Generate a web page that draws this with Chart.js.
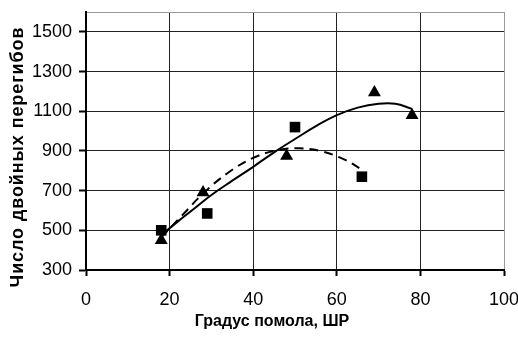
<!DOCTYPE html>
<html>
<head>
<meta charset="utf-8">
<script src="https://cdn.jsdelivr.net/npm/chart.js@4/dist/chart.umd.min.js"></script>
<style>
  html, body { margin: 0; padding: 0; background: #fff; }
</style>
</head>
<body>
<canvas id="chart" width="518" height="339"></canvas>
<script>
// measured points
const squareX = [18, 29, 50, 66];
const squareY = [500, 585, 1020, 770];
const triangleX = [18, 28, 48, 69, 78];
const triangleY = [450, 690, 875, 1195, 1080];

// trend lines
const solidX = [18, 22, 26, 30, 35, 40, 45, 50, 55, 60, 65, 70, 74, 78];
const solidY = [475, 545, 611, 678, 750, 820, 893, 960, 1025, 1080, 1118, 1138, 1138, 1112];
const dashX = [18, 23, 28, 34, 40, 46, 51, 56, 62, 66];
const dashY = [465, 575, 685, 790, 865, 905, 913, 900, 855, 805];

const xTicks = [0, 20, 40, 60, 80, 100];
const yTicks = [300, 500, 700, 900, 1100, 1300, 1500];
const yMax = 1600;

const xTitle = 'Градус помола, ШР';
const yTitle = 'Число двойных перегибов';

const toPoints = (xs, ys) => xs.map((x, i) => ({ x: x, y: ys[i] }));

const narrow = '"Liberation Sans Narrow", "Arial Narrow", "Liberation Sans", Arial, sans-serif';

const axisTitles = {
  id: 'axisTitles',
  afterDraw(chart) {
    const ctx = chart.ctx;
    ctx.save();
    ctx.fillStyle = '#000';
    ctx.textAlign = 'center';
    ctx.textBaseline = 'middle';
    ctx.font = 'bold 16px ' + narrow;
    ctx.fillText(xTitle, 272, 322);
    ctx.translate(18, 157);
    ctx.rotate(-Math.PI / 2);
    ctx.font = 'bold 18px "Liberation Sans", Arial, sans-serif';
    ctx.letterSpacing = '0.9px';
    ctx.fillText(yTitle, 0, 0);
    ctx.restore();
  }
};

new Chart(document.getElementById('chart'), {
  type: 'scatter',
  data: {
    datasets: [
      {
        data: toPoints(solidX, solidY),
        showLine: true,
        borderColor: '#000',
        borderWidth: 2,
        pointRadius: 0,
        tension: 0.4
      },
      {
        data: toPoints(dashX, dashY),
        showLine: true,
        borderColor: '#000',
        borderWidth: 2,
        borderDash: [9, 6],
        pointRadius: 0,
        tension: 0.4
      },
      {
        data: toPoints(squareX, squareY),
        pointStyle: 'rect',
        pointRadius: 7.5,
        backgroundColor: '#000',
        borderColor: '#000',
        borderWidth: 0
      },
      {
        data: toPoints(triangleX, triangleY),
        pointStyle: 'triangle',
        pointRadius: 7.5,
        backgroundColor: '#000',
        borderColor: '#000',
        borderWidth: 0
      }
    ]
  },
  options: {
    responsive: false,
    animation: false,
    devicePixelRatio: 1,
    layout: { padding: { left: 30, top: 12, right: 14, bottom: 0 } },
    plugins: {
      legend: { display: false },
      tooltip: { enabled: false }
    },
    scales: {
      x: {
        type: 'linear',
        min: 0,
        max: 100,
        afterFit: s => { s.height = 69; s.paddingLeft = 0; s.paddingRight = 0; },
        afterBuildTicks: s => { s.ticks = xTicks.map(v => ({ value: v })); },
        ticks: {
          color: '#000',
          font: { family: narrow, size: 18 },
          padding: 13,
          maxRotation: 0
        },
        grid: {
          color: c => (c.tick && c.tick.value === 100 ? '#999' : '#222'),
          lineWidth: 1,
          tickLength: 6,
          tickColor: '#000',
          tickWidth: 2
        },
        border: { color: '#000', width: 2 }
      },
      y: {
        type: 'linear',
        min: 300,
        max: yMax,
        afterFit: s => { s.width = 56; s.paddingTop = 0; s.paddingBottom = 0; },
        afterBuildTicks: s => { s.ticks = yTicks.concat([yMax]).map(v => ({ value: v })); },
        ticks: {
          color: '#000',
          font: { family: narrow, size: 18 },
          padding: 7,
          callback: v => (v === yMax ? '' : v)
        },
        grid: {
          color: c => (c.tick && c.tick.value === yMax ? '#999' : '#222'),
          lineWidth: 1,
          tickLength: 7,
          tickColor: c => (c.tick && c.tick.value === yMax ? 'rgba(0,0,0,0)' : '#000'),
          tickWidth: 2
        },
        border: { color: '#000', width: 2 }
      }
    }
  },
  plugins: [axisTitles]
});
</script>
</body>
</html>
